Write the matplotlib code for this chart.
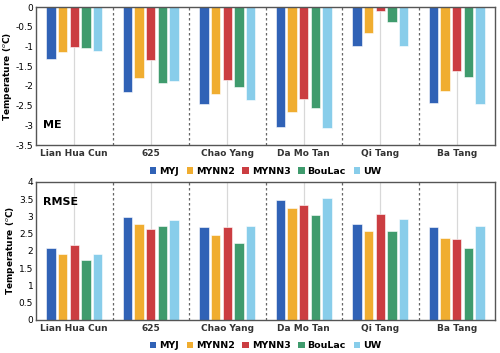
import numpy as np
import matplotlib.pyplot as plt
from matplotlib.patches import Patch

# stations and schemes
stations = ["Lian Hua Cun", "625", "Chao Yang", "Da Mo Tan", "Qi Tang", "Ba Tang"]
schemes = ["MYJ", "MYNN2", "MYNN3", "BouLac", "UW"]
colors = ["#3062b6", "#f0ad30", "#cb3d41", "#3f9b6d", "#88cdea"]

# mean error (degC) per scheme, one value per station
me_myj = [-1.31, -2.16, -2.45, -3.04, -1.00, -2.44]
me_mynn2 = [-1.14, -1.80, -2.21, -2.67, -0.65, -2.14]
me_mynn3 = [-1.01, -1.35, -1.84, -2.33, -0.10, -1.61]
me_boulac = [-1.04, -1.92, -2.03, -2.56, -0.39, -1.78]
me_uw = [-1.12, -1.88, -2.35, -3.06, -0.99, -2.45]

# root mean square error (degC)
rmse_myj = [2.07, 2.99, 2.68, 3.47, 2.77, 2.69]
rmse_mynn2 = [1.92, 2.79, 2.47, 3.23, 2.57, 2.37]
rmse_mynn3 = [2.17, 2.62, 2.70, 3.32, 3.06, 2.34]
rmse_boulac = [1.73, 2.71, 2.24, 3.03, 2.56, 2.07]
rmse_uw = [1.90, 2.90, 2.72, 3.53, 2.91, 2.72]

me = [me_myj, me_mynn2, me_mynn3, me_boulac, me_uw]
rmse = [rmse_myj, rmse_mynn2, rmse_mynn3, rmse_boulac, rmse_uw]

plt.rcParams["font.family"] = "DejaVu Sans"
fig = plt.figure(figsize=(5.0, 3.53), dpi=100)
ax1 = fig.add_axes([0.072, 0.589, 0.918, 0.391])
ax2 = fig.add_axes([0.072, 0.094, 0.918, 0.391])

x = np.arange(len(stations))
w = 0.153


def draw(ax, data, ylim, yticks, ticklabels, label, label_y):
    ax.set_xlim(-0.5, len(stations) - 0.5)
    ax.set_ylim(*ylim)
    for i in x:
        ax.axvline(i, color="#d8d8d8", lw=0.9, zorder=0)
    for i in x[1:]:
        ax.axvline(i - 0.5, color="#666666", lw=0.9, ls=(0, (2, 2)), zorder=0)
    for k, vals in enumerate(data):
        ax.bar(x + (k - 2) * w, vals, width=w * 0.8, color=colors[k],
               edgecolor="white", linewidth=0.4, zorder=2)
    ax.set_yticks(yticks)
    ax.set_yticklabels(ticklabels, fontsize=6.5)
    ax.set_xticks(x)
    ax.set_xticklabels(stations, fontsize=6.5, fontweight="bold", color="#333333")
    ax.tick_params(axis="x", length=0, pad=3)
    ax.tick_params(axis="y", length=0, pad=2)
    for s in ax.spines.values():
        s.set_color("#555555")
        s.set_linewidth(1.0)
    ax.set_ylabel("Temperature ($^o$C)", fontsize=6.5, fontweight="bold", labelpad=1.5)
    ax.text(-0.41, label_y, label, fontsize=8, fontweight="bold",
            ha="left", va="center")
    handles = [Patch(facecolor=c, label=s) for c, s in zip(colors, schemes)]
    ax.legend(handles=handles, loc="upper center", bbox_to_anchor=(0.5, -0.095),
              ncol=5, frameon=False, prop={"weight": "bold", "size": 6.8},
              handlelength=0.7, handleheight=0.7, handletextpad=0.3, columnspacing=0.8)


draw(ax1, me, (-3.5, 0), np.arange(-3.5, 0.01, 0.5),
     ["-3.5", "-3", "-2.5", "-2", "-1.5", "-1", "-0.5", "0"], "ME", -3.0)
draw(ax2, rmse, (0, 4), np.arange(0, 4.01, 0.5),
     ["0", "0.5", "1", "1.5", "2", "2.5", "3", "3.5", "4"], "RMSE", 3.42)

fig.savefig("out.png", dpi=100)
